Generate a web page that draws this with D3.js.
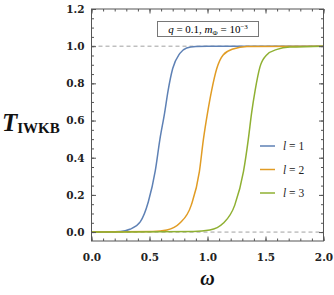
<!DOCTYPE html>
<html>
<head>
<meta charset="utf-8">
<script src="https://cdn.jsdelivr.net/npm/d3@7"></script>
<style>
  body { margin: 0; background: #fff; }
  svg { display: block; }
  text { font-family: "Liberation Serif", "Times New Roman", serif; }
</style>
</head>
<body>
<div id="chart"></div>
<script>
// data
const omegaL1 = [0, 0.25, 0.33, 0.42, 0.49, 0.55, 0.59, 0.63, 0.66, 0.70, 0.76, 0.82, 0.90, 1.0, 2.0];
const transL1 = [0, 0.003, 0.015, 0.055, 0.163, 0.33, 0.50, 0.64, 0.76, 0.88, 0.96, 0.99, 0.998, 1, 1];
const omegaL2 = [0, 0.53, 0.65, 0.76, 0.86, 0.93, 0.965, 1.0, 1.035, 1.08, 1.135, 1.22, 1.34, 2.0];
const transL2 = [0, 0.003, 0.011, 0.047, 0.145, 0.325, 0.50, 0.64, 0.76, 0.88, 0.953, 0.985, 0.998, 1];
const omegaL3 = [0, 0.88, 1.02, 1.135, 1.235, 1.31, 1.352, 1.38, 1.41, 1.453, 1.51, 1.60, 1.71, 2.0];
const transL3 = [0, 0.003, 0.011, 0.047, 0.145, 0.325, 0.50, 0.64, 0.76, 0.89, 0.953, 0.983, 0.995, 1];
const seriesNames = ["1", "2", "3"];
const colors = ["#5e81b5", "#e19c24", "#8fb032"];
const xTicks = [0, 0.5, 1.0, 1.5, 2.0];
const yTicks = [0, 0.2, 0.4, 0.6, 0.8, 1.0, 1.2];
const refLines = [0, 1];

const W = 334, H = 295;
const margin = {top: 9, right: 10.5, bottom: 54, left: 91.5};
const width = W - margin.left - margin.right;
const height = H - margin.top - margin.bottom;
const tickFont = "'DejaVu Serif', serif";

const svg = d3.select("#chart").append("svg")
  .attr("width", W)
  .attr("height", H);
const g = svg.append("g")
  .attr("transform", `translate(${margin.left},${margin.top})`);

const x = d3.scaleLinear().domain([0, 2]).range([0, width]);
const y = d3.scaleLinear().domain([-0.048, 1.2]).range([height, 0]);

const series = [
  omegaL1.map((w, i) => ({w: w, t: transL1[i]})),
  omegaL2.map((w, i) => ({w: w, t: transL2[i]})),
  omegaL3.map((w, i) => ({w: w, t: transL3[i]}))
];

// dashed reference lines
g.selectAll(".ref")
  .data(refLines)
  .enter().append("line")
  .attr("x1", 0).attr("x2", width)
  .attr("y1", d => y(d)).attr("y2", d => y(d))
  .attr("stroke", "#a0a0a0")
  .attr("stroke-width", 1)
  .attr("stroke-dasharray", "4,3");

// curves
const line = d3.line()
  .x(d => x(d.w))
  .y(d => y(d.t))
  .curve(d3.curveMonotoneX);

g.selectAll(".curve")
  .data(series)
  .enter().append("path")
  .attr("fill", "none")
  .attr("stroke", (d, i) => colors[i])
  .attr("stroke-width", 1.5)
  .attr("d", line);

// frame ticks (inside, on all sides)
function styleAxis(sel) {
  sel.attr("font-family", tickFont);
  sel.select(".domain").remove();
  sel.selectAll(".tick line").attr("stroke", "#555");
  sel.selectAll(".tick text")
    .style("font-family", tickFont)
    .style("font-size", "10.5px")
    .style("font-weight", "bold")
    .attr("fill", "#222");
}
const xMinor = d3.range(0, 2.001, 0.1);
const yMinor = d3.range(0, 1.2001, 0.05);

g.append("g").attr("transform", `translate(0,${height})`)
  .call(d3.axisBottom(x).tickValues(xMinor).tickSize(-2.5).tickFormat(""))
  .call(styleAxis);
g.append("g").attr("transform", `translate(0,${height})`)
  .call(d3.axisBottom(x).tickValues(xTicks).tickSize(-4.5).tickPadding(13).tickFormat(d3.format(".1f")))
  .call(styleAxis);
g.append("g")
  .call(d3.axisTop(x).tickValues(xMinor).tickSize(-2.5).tickFormat(""))
  .call(styleAxis);
g.append("g")
  .call(d3.axisTop(x).tickValues(xTicks).tickSize(-4.5).tickFormat(""))
  .call(styleAxis);
g.append("g")
  .call(d3.axisLeft(y).tickValues(yMinor).tickSize(-2.5).tickFormat(""))
  .call(styleAxis);
g.append("g")
  .call(d3.axisLeft(y).tickValues(yTicks).tickSize(-4.5).tickPadding(7).tickFormat(d3.format(".1f")))
  .call(styleAxis);
g.append("g").attr("transform", `translate(${width},0)`)
  .call(d3.axisRight(y).tickValues(yMinor).tickSize(-2.5).tickFormat(""))
  .call(styleAxis);
g.append("g").attr("transform", `translate(${width},0)`)
  .call(d3.axisRight(y).tickValues(yTicks).tickSize(-4.5).tickFormat(""))
  .call(styleAxis);

// frame
g.append("rect")
  .attr("width", width).attr("height", height)
  .attr("fill", "none")
  .attr("stroke", "#555")
  .attr("stroke-width", 1);

// parameter box
const box = g.append("g").attr("transform", `translate(${157.5 - margin.left},${21.5 - margin.top})`);
box.append("rect")
  .attr("width", 101).attr("height", 15)
  .attr("fill", "#fff")
  .attr("stroke", "#777")
  .attr("stroke-width", 1);
const boxText = box.append("text")
  .attr("x", 50.5).attr("y", 11)
  .attr("text-anchor", "middle")
  .style("font-size", "11px");
boxText.append("tspan").style("font-style", "italic").text("q");
boxText.append("tspan").text(" = 0.1, ");
boxText.append("tspan").style("font-style", "italic").text("m");
boxText.append("tspan").attr("dy", 2).style("font-size", "7px").text("Φ");
boxText.append("tspan").attr("dy", -2).text(" = 10");
boxText.append("tspan").attr("dy", -4).style("font-size", "7px").text("−3");

// legend
const legend = g.selectAll(".legend")
  .data(seriesNames)
  .enter().append("g")
  .attr("transform", (d, i) => `translate(${260 - margin.left},${146 + i * 23.5 - margin.top})`);
legend.append("line")
  .attr("x1", 0).attr("x2", 15)
  .attr("stroke", (d, i) => colors[i])
  .attr("stroke-width", 1.5);
const legText = legend.append("text")
  .attr("x", 23).attr("y", 4)
  .style("font-size", "11.5px")
  .attr("fill", "#222");
legText.append("tspan").style("font-style", "italic").text("l");
legText.append("tspan").text(d => " = " + d);

// axis titles
const yTitle = svg.append("text")
  .attr("x", 2).attr("y", 131)
  .attr("fill", "#111");
yTitle.append("tspan")
  .style("font-size", "25px").style("font-style", "italic").style("font-weight", "bold")
  .text("T");
yTitle.append("tspan")
  .attr("dy", 2)
  .style("font-size", "15px").style("font-weight", "bold")
  .text("IWKB");

svg.append("text")
  .attr("x", margin.left + width / 2).attr("y", 285)
  .attr("text-anchor", "middle")
  .attr("fill", "#111")
  .style("font-size", "20px").style("font-style", "italic").style("font-weight", "bold")
  .text("ω");
</script>
</body>
</html>
